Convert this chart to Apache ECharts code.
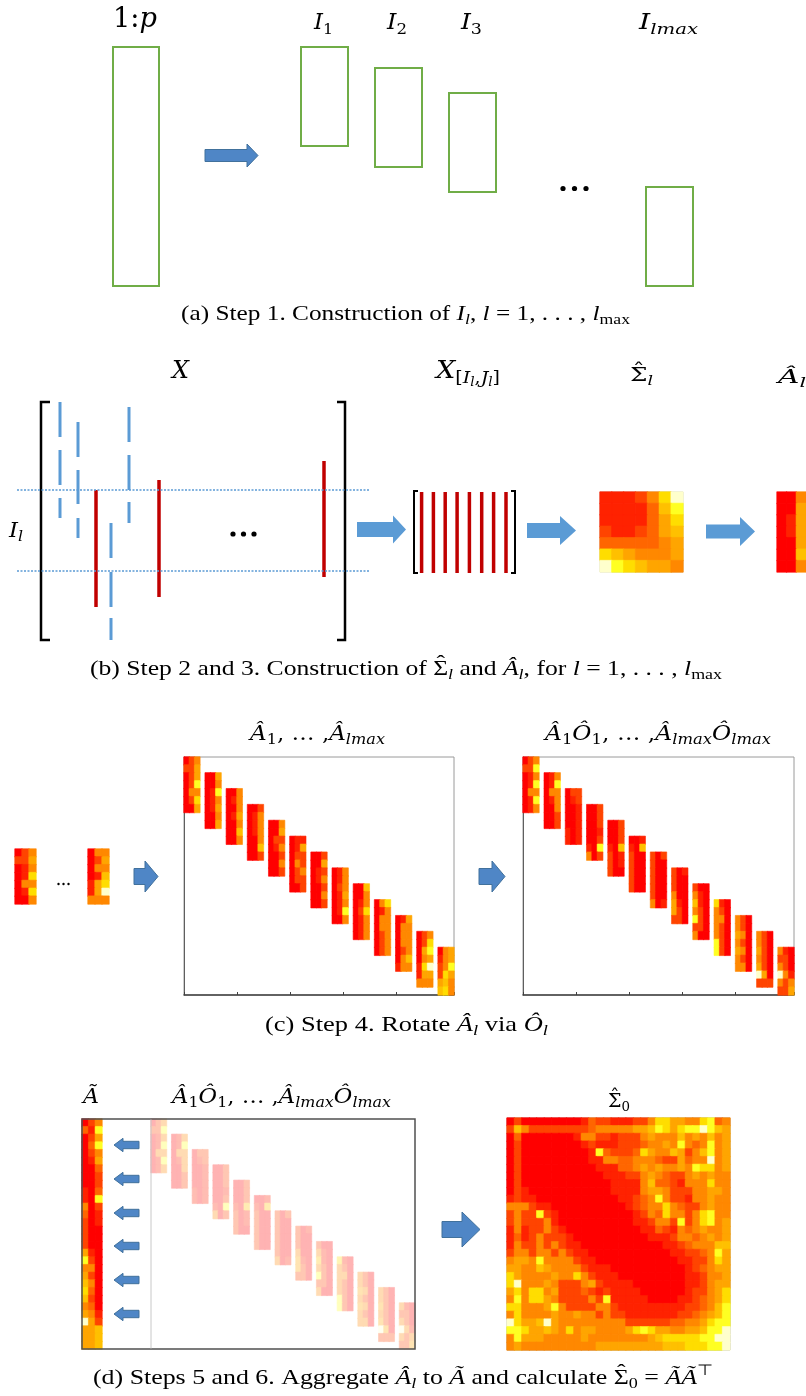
<!DOCTYPE html>
<html>
<head>
<meta charset="utf-8">
<script src="https://cdn.jsdelivr.net/npm/echarts@6/dist/echarts.min.js"></script>
<style>
html, body { margin: 0; background: #fff; }
#chart { width: 806px; height: 1396px; }
</style>
</head>
<body>
<div id="chart"></div>
<script>
// colour levels 0..9 (red -> pale yellow)
const palette = ['#ff0000', '#ff2200', '#ff4400', '#ff6600', '#ff8800', '#ffa500', '#ffc000', '#ffdd00', '#ffff22', '#ffffcc'];

// Sigma_l (7x7), one string per row
const sigmaL = ['1112479', '1111368', '1111357', '2112356', '3333345', '7654445', '9876554'];
// A_l in panel (b), 3 columns x 7 rows
const aHatL = ['004', '005', '015', '015', '005', '006', '004'];
// the two small A blocks at the left of panel (c)
const smallA1 = ['024', '225', '014', '017', '044', '017', '004'];
const smallA2 = ['044', '025', '044', '016', '157', '159', '444'];
// A_1 ... A_lmax (13 blocks, 7 rows of 3)
const blocksA = [
  '024 225 025 028 044 027 005', '005 004 018 014 015 004 005', '004 014 004 015 004 006 004',
  '002 014 014 014 004 006 002', '004 005 022 014 002 004 002', '011 015 022 042 024 022 002',
  '002 005 012 014 002 004 002', '014 014 024 015 014 018 004', '006 004 014 027 014 014 014',
  '047 014 044 044 024 024 024', '015 044 044 044 024 046 144', '024 027 058 045 179 155 444',
  '045 145 248 275 564 674 444'
];
// A_1 O_1 ... A_lmax O_lmax (13 blocks)
const blocksAO = [
  '024 228 014 018 044 018 014', '014 018 044 014 004 002 002', '022 012 001 001 001 101 101',
  '002 002 002 001 002 108 402', '002 002 002 106 201 201 200', '001 106 200 200 200 200 200',
  '202 200 200 200 200 200 401', '201 200 200 400 510 520 220', '200 410 610 420 820 220 400',
  '710 420 440 420 420 820 820', '420 420 540 420 540 420 440', '420 420 520 420 520 950 222',
  '410 220 420 941 424 225 446'
];
// A tilde (30 rows x 3)
const aTilde = ['024', '318', '025', '038', '024', '015', '003', '002', '002', '103',
  '108', '402', '301', '201', '200', '200', '200', '510', '820', '440',
  '520', '640', '730', '620', '430', '541', '952', '556', '556', '556'];
// Sigma_0 (30x30)
const sigma0 = [
  '020000000013221112247755447834', '264222222223444445568757889865', '030000000144221222454446454645',
  '020000000012111222344548434845', '020000000001832223754465246845', '020000000001144334443225344945',
  '020000000000111334545445487745', '020000000000011122454322454544', '020000000000001111463321444744',
  '021000000000001111455422244554', '121100000000000112348422144544', '444211000000000012344743224544',
  '242282100000000001243744247844', '242224100000000001124428247845', '141224210000000000113214345445',
  '131242221000000000011124434545', '142242421100000000000112344466', '244244242110000000000011223485',
  '455484444211000000000001122475', '554465444421110000000000123455', '754444544742111000000000112445',
  '794445422245211110000000112455', '574774522232121111000000122457', '484775422224281111100001123457',
  '774445842222442111111111223468', '474444544544242211111112234568', '975569544444444422222233445788',
  '887556547455444457875544556889', '485554444454444444456777778899', '454444444444555555555666777889'
];

const ctx2d = document.createElement('canvas').getContext('2d');

function fade(hex, a) {
  const n = parseInt(hex.slice(1), 16);
  const c = [n >> 16, (n >> 8) & 255, n & 255].map(v => Math.round(255 - (255 - v) * a));
  return 'rgb(' + c.join(',') + ')';
}
const palePalette = palette.map(c => fade(c, 0.3));

function idx(n) { return Array.from({ length: n }, (_, i) => String(i)); }
// cell item; a thin border in the cell's own colour hides the seams between cells
function cell(x, y, v, pal) {
  return { value: [x, y, v], itemStyle: { borderColor: pal[v], borderWidth: 0.6 } };
}
function cellsFromRows(rows, pal) {
  const out = [];
  rows.forEach((r, y) => r.split('').forEach((v, x) => out.push(cell(x, y, +v, pal || palette))));
  return out;
}
function cellsFromBlocks(blocks, nRows, pal) {
  const out = [];
  blocks.forEach((b, k) => b.split(' ').forEach((r, i) => r.split('').forEach((v, j) => {
    const y = 2 * k + i;
    if (y < nRows) out.push(cell(4 * k + j, y, +v, pal || palette));
  })));
  return out;
}

const grids = [], xAxes = [], yAxes = [], series = [];
function addHeat(rect, nx, ny, data, opt) {
  opt = opt || {};
  const i = grids.length;
  grids.push({ left: rect[0], top: rect[1], width: rect[2], height: rect[3],
    show: !!opt.frame, borderColor: opt.frame || 'transparent', borderWidth: 1 });
  if (opt.axes) {
    xAxes.push({ type: 'category', gridIndex: i, data: idx(nx),
      axisLine: { show: true, lineStyle: { color: '#3f3f3f', width: 1.5 } },
      axisTick: { show: true, inside: true, length: 3, interval: 9, lineStyle: { color: '#3f3f3f' } },
      axisLabel: { show: false }, splitLine: { show: false } });
    yAxes.push({ type: 'category', gridIndex: i, data: idx(ny), inverse: true,
      axisLine: { show: true, lineStyle: { color: '#5f5f5f', width: 1 } },
      axisTick: { show: false }, axisLabel: { show: false }, splitLine: { show: false } });
  } else {
    xAxes.push({ type: 'category', gridIndex: i, data: idx(nx), show: false });
    yAxes.push({ type: 'category', gridIndex: i, data: idx(ny), inverse: true, show: false });
  }
  series.push({ type: 'heatmap', xAxisIndex: i, yAxisIndex: i, data: data, silent: true,
    emphasis: { disabled: true } });
}

addHeat([600, 492, 83, 80], 7, 7, cellsFromRows(sigmaL), { frame: '#c4c4c4' });
addHeat([777, 492, 30, 80], 3, 7, cellsFromRows(aHatL));
addHeat([15, 849, 21, 55], 3, 7, cellsFromRows(smallA1));
addHeat([88, 849, 21, 55], 3, 7, cellsFromRows(smallA2));
addHeat([184, 757, 270, 238], 51, 30, cellsFromBlocks(blocksA, 30), { frame: '#9a9a9a', axes: true });
addHeat([523, 757, 271, 238], 51, 30, cellsFromBlocks(blocksAO, 30), { frame: '#9a9a9a', axes: true });
addHeat([82, 1119, 20, 230], 3, 30, cellsFromRows(aTilde));
addHeat([151, 1119, 264, 230], 51, 30, cellsFromBlocks(blocksAO, 30, palePalette));
addHeat([507, 1118, 223, 232], 30, 30, cellsFromRows(sigma0), { frame: '#9a9a9a' });

// ---------- diagram shapes ----------
const shapes = [];
const GREEN = '#70ad47', BLUE = '#4f86c6', BLUE_EDGE = '#41719c', LIGHT_BLUE = '#5b9bd5', DARK_RED = '#c00000';

function rect(x, y, w, h, stroke, lw) {
  shapes.push({ type: 'rect', z: 100, shape: { x: x, y: y, width: w, height: h },
    style: { fill: 'none', stroke: stroke, lineWidth: lw } });
}
function line(x1, y1, x2, y2, stroke, lw, dash) {
  shapes.push({ type: 'line', z: 100, shape: { x1: x1, y1: y1, x2: x2, y2: y2 },
    style: { stroke: stroke, lineWidth: lw, lineDash: dash || null } });
}
function bracket(x, y1, y2, serif, lw) {
  shapes.push({ type: 'polyline', z: 100, shape: { points: [[x + serif, y1], [x, y1], [x, y2], [x + serif, y2]] },
    style: { fill: 'none', stroke: '#000', lineWidth: lw } });
}
// horizontal block arrow; tip at x1, tail at x0
function arrow(x0, x1, hx, cy, bh, hh, fill, edge) {
  shapes.push({ type: 'polygon', z: 100, shape: { points: [
    [x0, cy - bh], [hx, cy - bh], [hx, cy - hh], [x1, cy], [hx, cy + hh], [hx, cy + bh], [x0, cy + bh]] },
    style: { fill: fill, stroke: edge || null, lineWidth: edge ? 1 : 0 } });
}
function dots(xs, y, r) {
  xs.forEach(x => shapes.push({ type: 'circle', z: 100, shape: { cx: x, cy: y, r: r }, style: { fill: '#000' } }));
}

// panel (a)
rect(113, 47, 46, 239, GREEN, 2);
[[301, 47], [375, 68], [449, 93], [646, 187]].forEach(p => rect(p[0], p[1], 47, 99, GREEN, 2));
arrow(205, 258, 247, 155.5, 6, 11.5, BLUE, BLUE_EDGE);
dots([563, 574.5, 586], 188.5, 2.6);

// panel (b)
bracket(41, 402, 640, 9, 2.5);
bracket(345, 402, 640, -8, 2.5);
[[60, 402, 437], [60, 450, 485], [60, 498, 518],
 [78, 422, 457], [78, 470, 504], [78, 518, 538],
 [111, 523, 558], [111, 572, 607], [111, 618, 640],
 [129, 407, 442], [129, 455, 490], [129, 502, 523]].forEach(d => line(d[0], d[1], d[0], d[2], LIGHT_BLUE, 3));
[[96, 490, 607], [159, 480, 597], [324, 461, 577]].forEach(d => line(d[0], d[1], d[0], d[2], DARK_RED, 3.5));
line(17, 490, 369, 490, LIGHT_BLUE, 1.5, [2, 1.5]);
line(17, 571, 369, 571, LIGHT_BLUE, 1.5, [2, 1.5]);
dots([233, 243.5, 254], 534, 2.6);
arrow(357, 406, 393, 529.5, 7.5, 14, LIGHT_BLUE);
bracket(414, 491, 573, 4, 2);
bracket(515, 491, 573, -4, 2);
[421.6, 433.4, 445.2, 457.1, 469.4, 481.7, 493.6, 506].forEach(x => line(x, 492, x, 573, DARK_RED, 3.5));
arrow(527, 576, 560, 530.5, 7.5, 14.5, LIGHT_BLUE);
arrow(706, 755, 740, 531.5, 7, 14.5, LIGHT_BLUE);

// panel (c)
dots([58.5, 63.5, 68.5], 884, 1.2);
arrow(134, 158, 145, 876.5, 8, 15.5, BLUE, BLUE_EDGE);
arrow(479, 505, 492, 876.5, 8, 15.5, BLUE, BLUE_EDGE);

// panel (d)
rect(82, 1119, 333, 230, '#505050', 1.5);
line(151, 1119.5, 151, 1348.5, '#c8c8c8', 1);
[1145, 1179, 1213, 1246, 1280, 1314].forEach(cy => arrow(139, 114, 123, cy, 3.7, 6.7, BLUE, BLUE_EDGE));
arrow(442, 480, 462, 1229.5, 8, 17.5, BLUE, BLUE_EDGE);

// ---------- text ----------
// kinds: r roman, i italic, sr/si subscript, qi sub-subscript, ur superscript; third item = hat
function formula(parts, o) {
  const fam = o.family || '"DejaVu Serif"';
  const kids = [];
  let x = 0;
  parts.forEach(p => {
    const t = p[0], k = p[1];
    let size = o.size, dy = 0;
    if (k[0] === 's') { size = o.size * 0.7; dy = o.size * 0.22; }
    if (k[0] === 'q') { size = o.size * 0.5; dy = o.size * 0.36; }
    if (k[0] === 'u') { size = o.size * 0.7; dy = -o.size * 0.42; }
    const italic = k[k.length - 1] === 'i';
    const font = (italic ? 'italic ' : '') + size.toFixed(1) + 'px ' + fam;
    ctx2d.font = font;
    const w = ctx2d.measureText(t).width;
    kids.push({ type: 'text', x: x, y: dy + size * 0.22,
      style: { text: t, font: font, fill: '#000', verticalAlign: 'bottom', align: 'left' } });
    if (p[2]) {
      kids.push({ type: 'text', x: x + w / 2, y: dy + size * 0.22 - size * 0.2,
        style: { text: '\u02c6', font: size.toFixed(1) + 'px ' + fam, fill: '#000', verticalAlign: 'bottom', align: 'center' } });
    }
    x += w;
  });
  shapes.push({ type: 'group', x: o.left, y: o.base, scaleX: o.width ? o.width / x : 1, z: 100, children: kids });
}

const SIGMA = '\u03a3';
// panel (a) labels
formula([['1:', 'r'], ['p', 'i']], { left: 113, base: 28, size: 27, width: 44 });
formula([['I', 'i'], ['1', 'sr']], { left: 314, base: 29, size: 22, width: 19 });
formula([['I', 'i'], ['2', 'sr']], { left: 387, base: 29, size: 22, width: 20 });
formula([['I', 'i'], ['3', 'sr']], { left: 461, base: 29, size: 22, width: 21 });
formula([['I', 'i'], ['lmax', 'si']], { left: 639, base: 29, size: 22, width: 59 });
// panel (b) labels
formula([['X', 'i']], { left: 172, base: 378, size: 25, width: 17 });
formula([['X', 'i'], ['[', 'sr'], ['I', 'si'], ['l', 'qi'], [',', 'sr'], ['J', 'si'], ['l', 'qi'], [']', 'sr']],
  { left: 436, base: 378, size: 24, width: 64 });
formula([[SIGMA, 'r', 1], ['l', 'si']], { left: 630, base: 381, size: 18, width: 23 });
formula([['\u00c2', 'i'], ['l', 'si']], { left: 778, base: 383, size: 18, width: 28 });
formula([['I', 'i'], ['l', 'si']], { left: 9, base: 537, size: 21, width: 14 });
// panel (c) labels
formula([['\u00c2', 'i'], ['1', 'sr'], [', \u2026 ,', 'r'], ['\u00c2', 'i'], ['lmax', 'si']],
  { left: 250, base: 740, size: 21, width: 135 });
formula([['\u00c2', 'i'], ['1', 'sr'], ['\u00d4', 'i'], ['1', 'sr'], [', \u2026 ,', 'r'], ['\u00c2', 'i'], ['lmax', 'si'], ['\u00d4', 'i'], ['lmax', 'si']],
  { left: 545, base: 740, size: 21, width: 226 });
// panel (d) labels
formula([['\u00c3', 'i']], { left: 83, base: 1103, size: 21, width: 16 });
formula([['\u00c2', 'i'], ['1', 'sr'], ['\u00d4', 'i'], ['1', 'sr'], [', \u2026 ,', 'r'], ['\u00c2', 'i'], ['lmax', 'si'], ['\u00d4', 'i'], ['lmax', 'si']],
  { left: 172, base: 1103, size: 21, width: 219 });
formula([[SIGMA, 'r', 1], ['0', 'sr']], { left: 608, base: 1107, size: 19, width: 22 });

// captions
const CAP = { family: '"Liberation Serif"', size: 21 };
formula([['(a) Step 1. Construction of ', 'r'], ['I', 'i'], ['l', 'si'], [', ', 'r'], ['l', 'i'], [' = 1, . . . , ', 'r'], ['l', 'i'], ['max', 'sr']],
  Object.assign({ left: 181, base: 320, width: 449 }, CAP));
formula([['(b) Step 2 and 3. Construction of ', 'r'], [SIGMA, 'r', 1], ['l', 'si'], [' and ', 'r'], ['\u00c2', 'i'], ['l', 'si'],
  [', for ', 'r'], ['l', 'i'], [' = 1, . . . , ', 'r'], ['l', 'i'], ['max', 'sr']],
  Object.assign({ left: 90, base: 675, width: 632 }, CAP));
formula([['(c) Step 4. Rotate ', 'r'], ['\u00c2', 'i'], ['l', 'si'], [' via ', 'r'], ['\u00d4', 'i'], ['l', 'si']],
  Object.assign({ left: 265, base: 1031, width: 283 }, CAP));
formula([['(d) Steps 5 and 6. Aggregate ', 'r'], ['\u00c2', 'i'], ['l', 'si'], [' to ', 'r'], ['\u00c3', 'i'], [' and calculate ', 'r'],
  [SIGMA, 'r', 1], ['0', 'sr'], [' = ', 'r'], ['\u00c3\u00c3', 'i'], ['\u22a4', 'ur']],
  Object.assign({ left: 93, base: 1384, width: 620 }, CAP));

const chart = echarts.init(document.getElementById('chart'));
chart.setOption({
  animation: false,
  backgroundColor: '#fff',
  grid: grids,
  xAxis: xAxes,
  yAxis: yAxes,
  visualMap: [
    { type: 'continuous', show: false, min: 0, max: 9, seriesIndex: [0, 1, 2, 3, 4, 5, 6, 8], inRange: { color: palette } },
    { type: 'continuous', show: false, min: 0, max: 9, seriesIndex: [7], inRange: { color: palePalette } }
  ],
  series: series,
  graphic: { elements: shapes }
});
</script>
</body>
</html>
